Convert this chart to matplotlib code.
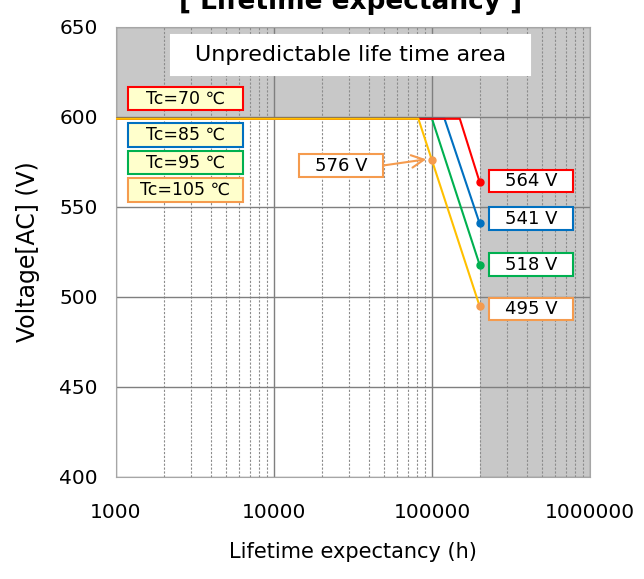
import matplotlib.pyplot as plt
from matplotlib.patches import Rectangle

# data
temps = ['Tc=70 ℃', 'Tc=85 ℃', 'Tc=95 ℃', 'Tc=105 ℃']
life_x = [[1000, 150000, 200000],
          [1000, 120000, 200000],
          [1000, 100000, 200000],
          [1000, 82000, 200000]]
volt_y = [[599, 599, 564],
          [599, 599, 541],
          [599, 599, 518],
          [599, 599, 495]]
end_labels = ['564 V', '541 V', '518 V', '495 V']
mid_point = (100000, 576)
mid_label = '576 V'

line_colors = ['#FF0000', '#0070C0', '#00B050', '#FFC000']
box_colors = ['#FF0000', '#0070C0', '#00B050', '#F59B4E']
dot_colors = ['#FF0000', '#0070C0', '#00B050', '#F59B4E']
orange = '#F59B4E'

fig = plt.figure(figsize=(6.44, 5.79), dpi=100)
ax = fig.add_axes([116 / 644, 102 / 579, 474 / 644, 450 / 579])

ax.set_xscale('log')
ax.set_xlim(1000, 1000000)
ax.set_ylim(400, 650)

# unpredictable region
ax.axhspan(600, 650, color='#C8C8C8', lw=0, zorder=0.2)
ax.axvspan(200000, 1000000, color='#C8C8C8', lw=0, zorder=0.2)

ax.set_axisbelow(True)
ax.grid(which='major', axis='both', color='#7F7F7F', lw=1.0, zorder=0.5)
ax.grid(which='minor', axis='x', color='#8C8C8C', lw=0.8, ls=(0, (2, 1.5)), zorder=0.5)

ax.set_yticks([400, 450, 500, 550, 600, 650])
ax.set_xticks([1000, 10000, 100000, 1000000])
ax.set_xticklabels(['1000', '10000', '100000', '1000000'])
ax.tick_params(which='both', length=0)
ax.tick_params(axis='x', labelsize=14.5, pad=19)
ax.tick_params(axis='y', labelsize=14.5, pad=13)
for s in ax.spines.values():
    s.set_color('#A6A6A6')

ax.set_xlabel('Lifetime expectancy (h)', fontsize=15, labelpad=14)
ax.set_ylabel('Voltage[AC] (V)', fontsize=17, labelpad=14)

# lines (draw order: green, blue, red, yellow)
for i in [2, 1, 0, 3]:
    ax.plot(life_x[i], volt_y[i], color=line_colors[i], lw=1.5, zorder=3)
    ax.plot(life_x[i][-1], volt_y[i][-1], 'o', color=dot_colors[i], ms=5, zorder=4)
ax.plot(*mid_point, 'o', color=orange, ms=5, zorder=4)

# title (partly cut off at the top, as in the source)
fig.text(351 / 644, 1 - 9 / 579, '[ Lifetime expectancy ]', fontsize=19,
         fontweight='bold', ha='center', va='baseline')

def px_box(x0, y0, x1, y1, text, edge, face, size=13):
    # box given in figure pixels (top-left origin)
    r = Rectangle((x0 / 644, 1 - y1 / 579), (x1 - x0) / 644, (y1 - y0) / 579,
                  transform=fig.transFigure, facecolor=face, edgecolor=edge,
                  lw=1.5, zorder=5)
    fig.add_artist(r)
    fig.text((x0 + x1) / 2 / 644, 1 - (y0 + y1) / 2 / 579, text, fontsize=size,
             ha='center', va='center', zorder=6)

px_box(171, 35, 530, 75, 'Unpredictable life time area', 'white', 'white', size=16)

leg_y = [(87, 110), (123, 147), (151, 174), (178, 202)]
for t, (y0, y1), c in zip(temps, leg_y, box_colors):
    px_box(128, y0, 243, y1, t, c, '#FFFFCC', size=12.5)

val_y = [(170, 192), (207, 230), (253, 276), (298, 320)]
for t, (y0, y1), c in zip(end_labels, val_y, box_colors):
    px_box(489, y0, 573, y1, t, c, 'white', size=13)

px_box(299, 154, 383, 177, mid_label, orange, 'white', size=13)
ax.annotate('', xy=(92000, mid_point[1] + 0.5), xytext=(383 / 644, 1 - 165.5 / 579),
            textcoords='figure fraction',
            arrowprops=dict(arrowstyle='->,head_length=0.9,head_width=0.45',
                            color=orange, lw=1.5, shrinkA=0, shrinkB=0),
            zorder=5)

fig.savefig('out.png', dpi=100)
